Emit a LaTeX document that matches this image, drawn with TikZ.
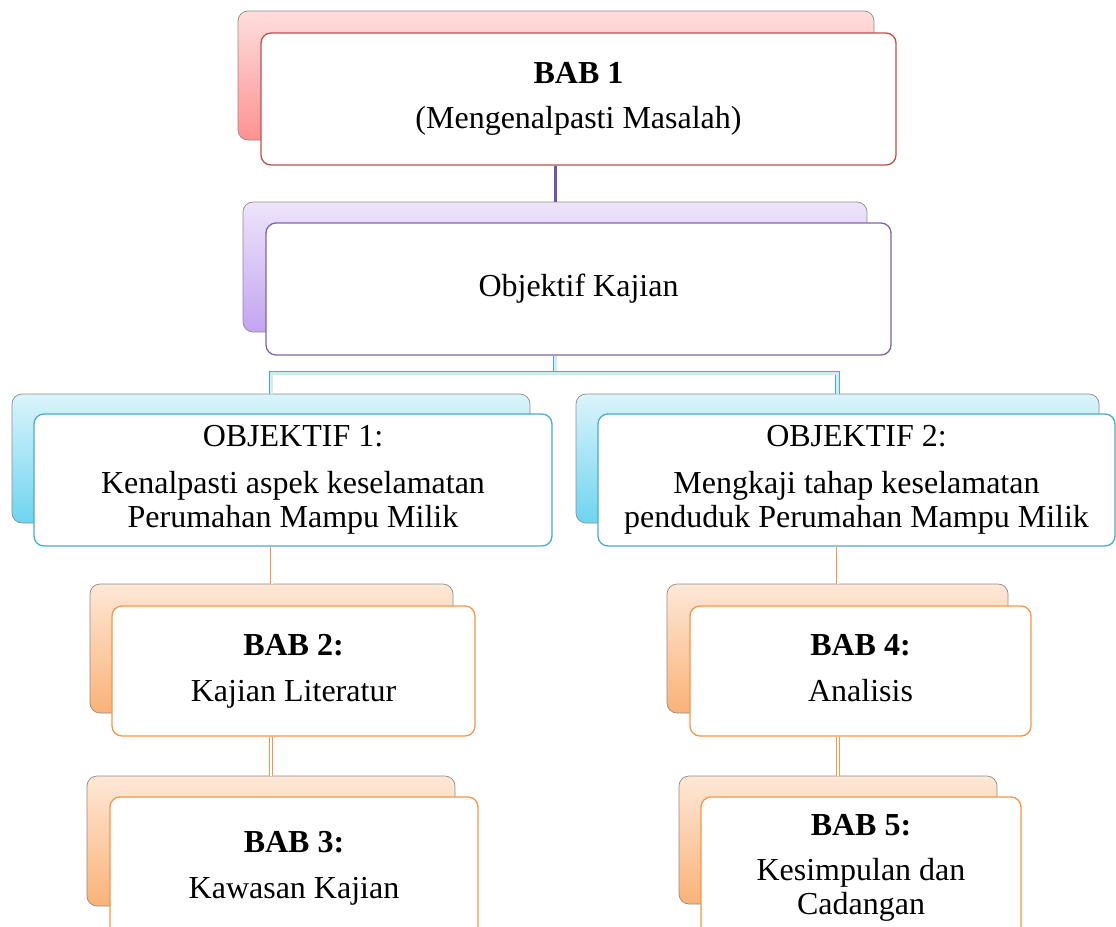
\documentclass[tikz,border=0pt]{standalone}
\usepackage{fontspec}
\setmainfont{Liberation Serif}

\definecolor{redln}{RGB}{192,80,77}
\definecolor{redbk}{RGB}{255,145,145}
\definecolor{purln}{RGB}{128,100,162}
\definecolor{purbk}{RGB}{195,165,240}
\definecolor{cyaln}{RGB}{75,172,198}
\definecolor{cyabk}{RGB}{110,212,240}
\definecolor{orgln}{RGB}{247,150,70}
\definecolor{orgbk}{RGB}{250,178,120}

\begin{document}
\begin{tikzpicture}[x=1pt, y=-1pt,
  bk/.style={draw=black!45, line width=0.7pt, rounded corners=10pt, inner sep=0pt},
  fr/.style={fill=white, line width=1.3pt, rounded corners=10pt, inner sep=0pt,
    align=center, font=\fontsize{32}{34}\selectfont},
  pln/.style={draw=purln!85!blue, line width=3pt},
  cln/.style={draw=cyaln, line width=0.8pt, double=cyaln!25, double distance=3pt},
  oln/.style={draw=orgln, line width=0.7pt, double=white, double distance=2pt}]
\useasboundingbox (0,0) rectangle (1116,926);
\clip (0,0) rectangle (1116,926);
% back boxes
\node[bk, top color=redbk!30, bottom color=redbk, minimum width=636pt, minimum height=129pt] (b1b) at (556,75.5) {};
\node[bk, top color=purbk!30, bottom color=purbk, minimum width=624pt, minimum height=130pt] (objb) at (555,267) {};
\node[bk, top color=cyabk!25, bottom color=cyabk, minimum width=518pt, minimum height=129pt] (o1b) at (271,458.5) {};
\node[bk, top color=cyabk!25, bottom color=cyabk, minimum width=523pt, minimum height=129pt] (o2b) at (837.5,458.5) {};
\node[bk, top color=orgbk!30, bottom color=orgbk, minimum width=363pt, minimum height=129pt] (b2b) at (271.5,648.5) {};
\node[bk, top color=orgbk!30, bottom color=orgbk, minimum width=368pt, minimum height=130pt] (b3b) at (271,841) {};
\node[bk, top color=orgbk!30, bottom color=orgbk, minimum width=341pt, minimum height=129pt] (b4b) at (837.5,648.5) {};
\node[bk, top color=orgbk!30, bottom color=orgbk, minimum width=318pt, minimum height=128pt] (b5b) at (838,840) {};
% front boxes
\node[fr, draw=redln, minimum width=635pt, minimum height=132pt] (b1) at (578.5,99)
  {\textbf{BAB 1}\\[11pt](Mengenalpasti Masalah)};
\node[fr, draw=purln, minimum width=625pt, minimum height=132pt] (obj) at (578.5,289)
  {Objektif Kajian};
\node[fr, draw=cyaln, minimum width=518pt, minimum height=132pt] (o1) at (293,480)
  {OBJEKTIF 1:\\[13pt]Kenalpasti aspek keselamatan\\Perumahan Mampu Milik};
\node[fr, draw=cyaln, minimum width=517pt, minimum height=132pt] (o2) at (856.5,480)
  {OBJEKTIF 2:\\[13pt]Mengkaji tahap keselamatan\\penduduk Perumahan Mampu Milik};
\node[fr, draw=orgln, minimum width=363pt, minimum height=130pt] (b2) at (293.5,671)
  {\textbf{BAB 2:}\\[12pt]Kajian Literatur\vphantom{g}};
\node[fr, draw=orgln, minimum width=368pt, minimum height=142pt] (b3) at (294,868)
  {\textbf{BAB 3:}\\[12pt]Kawasan Kajian};
\node[fr, draw=orgln, minimum width=341pt, minimum height=130pt] (b4) at (860.5,671)
  {\textbf{BAB 4:}\\[12pt]Analisis\vphantom{g}};
\node[fr, draw=orgln, minimum width=320pt, minimum height=142pt] (b5) at (861,868)
  {\textbf{BAB 5:}\\[11pt]Kesimpulan dan\\Cadangan};
% connectors
\coordinate (split) at (555,373);
\draw[pln] (b1.south -| objb.north) -- (objb.north);
\draw[cln] (obj.south -| objb.north) -- (split);
\draw[cln] (o1b.north) -- (o1b.north |- split) -- (o2b.north |- split) -- (o2b.north);
\draw[oln] (o1.south -| b2b.north) -- (b2b.north);
\draw[oln] (b2.south -| b3b.north) -- (b3b.north);
\draw[oln] (o2.south -| b4b.north) -- (b4b.north);
\draw[oln] (b4.south -| b5b.north) -- (b5b.north);
\end{tikzpicture}
\end{document}
